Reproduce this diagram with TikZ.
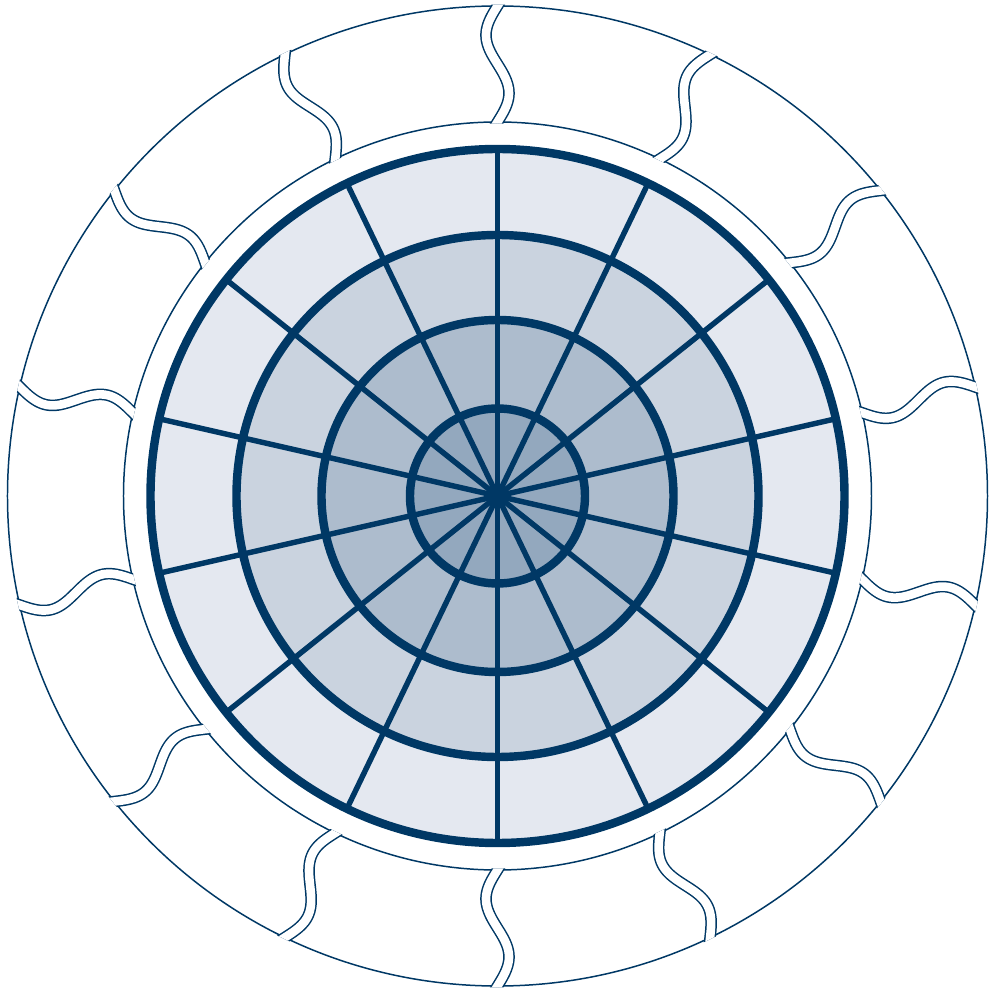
\documentclass[tikz,border=0pt]{standalone}
\definecolor{navy}{HTML}{003865}
\definecolor{ringA}{HTML}{E4E8F0}
\definecolor{ringB}{HTML}{CAD3DF}
\definecolor{ringC}{HTML}{ADBCCD}
\definecolor{ringD}{HTML}{93A8BE}
\tikzset{
  thinline/.style={draw=navy, line width=0.85pt},
  jointdark/.style={draw=navy, line width=6.6pt},
  jointgap/.style={draw=white, line width=4.9pt},
  spokeline/.style={draw=navy, line width=3.1pt},
  ringline/.style={draw=navy, line width=4.8pt}
}
\begin{document}
\begin{tikzpicture}[x=0.02cm,y=0.02cm]
\useasboundingbox (-497.5,-497) rectangle (496.5,496);
% puzzle ring outline
\draw[thinline] (0,0) circle (490);
\draw[thinline] (0,0) circle (374);
\begin{scope}[even odd rule]
  \clip (0,0) circle (491.5) (0,0) circle (372.5);
  \foreach \k in {0,...,13}{
    \pgfmathsetmacro\th{90+\k*360/14}
    \draw[jointdark] plot[domain=-0.05:1.05, samples=70, smooth, variable=\t]
      ({\th+deg(11.5*sin(360*\t)/(490-116*\t))}:{490-116*\t});
    \draw[jointgap] plot[domain=-0.05:1.05, samples=70, smooth, variable=\t]
      ({\th+deg(11.5*sin(360*\t)/(490-116*\t))}:{490-116*\t});
  }
\end{scope}
% inner disk
\fill[ringA] (0,0) circle (347);
\fill[ringB] (0,0) circle (261);
\fill[ringC] (0,0) circle (176);
\fill[ringD] (0,0) circle (87.5);
\foreach \k in {0,...,13}{
  \pgfmathsetmacro\th{90+\k*360/14}
  \draw[spokeline] (0,0) -- (\th:347);
}
\foreach \r in {87.5,176,261,347}{
  \draw[ringline] (0,0) circle (\r);
}
\end{tikzpicture}
\end{document}
